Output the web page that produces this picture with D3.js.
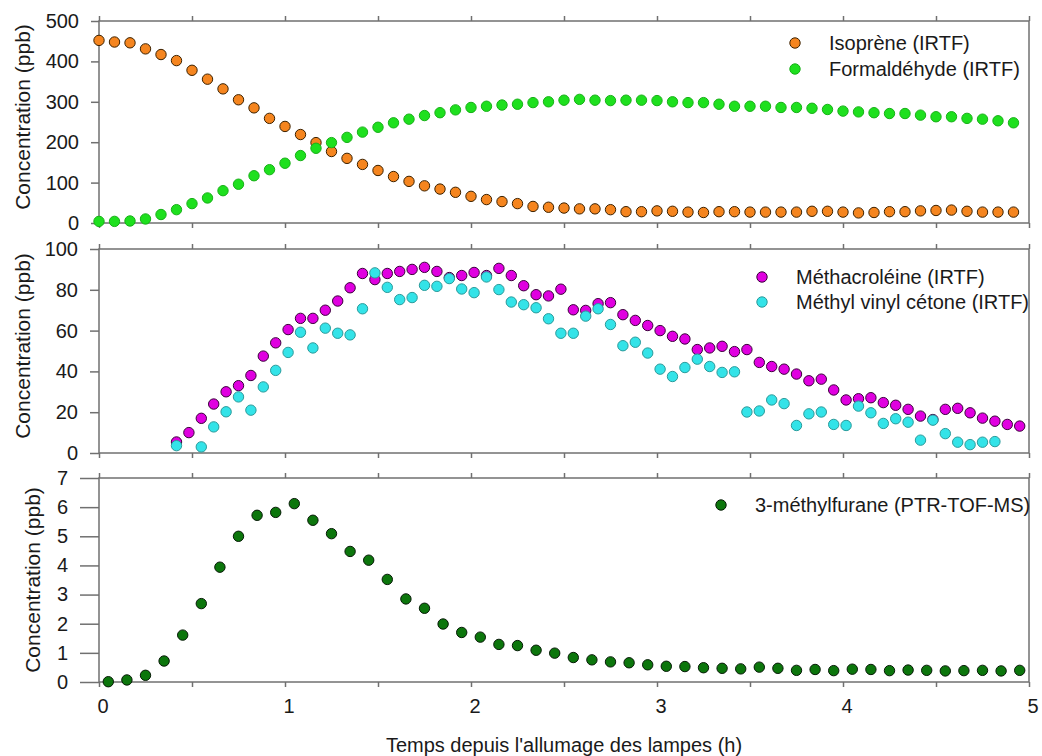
<!DOCTYPE html>
<html><head><meta charset="utf-8">
<script src="https://cdn.jsdelivr.net/npm/d3@7"></script>
<style>
body{margin:0;background:#fff}
svg{display:block}
text{font-family:"Liberation Sans",Arial,sans-serif;fill:#1a1a1a}
</style>
</head><body>
<svg id="c" width="1042" height="756"></svg>
<script>
// ---------- data ----------
// sampling times in minutes
const timesIRTF5 = [0,5,10,15,20,25,30,35,40,45,50,55,60,65,70,75,80,85,90,95,100,105,110,115,120,125,130,135,140,145,150,155,160,165,170,175,180,185,190,195,200,205,210,215,220,225,230,235,240,245,250,255,260,265,270,275,280,285,290,295];
const isoprene = [452,448,446,431,417,402,378,356,332,305,
  285,259,239,219,199,177,160,145,130,115,
  103,92,84,76,66,58,53,48,41,39,
  37,35,35,33,28,28,30,29,27,26,
  28,28,27,27,27,27,29,29,27,25,
  26,28,28,30,31,32,29,27,27,27];
const formaldehyde = [4,4,5,10,21,33,48,62,80,96,
  117,132,148,167,185,199,212,225,237,248,
  257,266,273,280,286,289,292,294,298,300,
  304,306,304,303,304,304,303,300,298,298,
  294,289,289,289,286,286,284,281,277,275,
  273,271,271,267,263,263,259,257,253,248];

const timesIRTF4 = [25,29,33,37,41,45,49,53,57,61,65,69,73,77,81,85,89,93,97,101,105,109,113,117,121,125,129,133,137,141,145,149,153,157,161,165,169,173,177,181,185,189,193,197,201,205,209,213,217,221,225,229,233,237,241,245,249,253,257,261,265,269,273,277,281,285,289,293,297];
const methacroleine = [5.4,10,17,24,30,33,38,47.5,54,60.5,66,66,70,74.5,81,88,85,88,89,90,91,89,86,87,88.5,87,90.5,87,82,77.6,
  77,80.3,70.2,69.9,73.2,73.7,67.8,65,62.5,60,57.2,55.9,50.7,51.5,52.3,49.7,50.7,44.4,42.4,41.1,38.7,35.4,36.2,30.9,26,26.6,27.1,24.7,23.4,21.4,18.1,16.4,21.4,21.9,19.7,17.1,15.6,14,13.2];
const mvk = [3.6,null,3,12.8,20.2,27.5,21,32.4,40.5,49.3,59.2,51.5,61.2,58.7,57.9,70.7,88.3,81.2,75.2,76.2,82.2,81.7,85.5,80.4,78.6,86.3,80.1,74,72.7,71.2,
  65.8,58.7,58.7,67.1,70.7,63,52.6,54.3,49,41.1,37.5,41.9,46,42.4,39.5,39.8,20.1,20.6,26,24.2,13.5,19.2,20.1,14,13.5,23,19.7,14.5,16.8,15.1,6.3,16.1,9.5,5.3,4.1,5.3,5.6,null,null];

const timesPTR = [3,9,15,21,27,33,39,45,51,57,63,69,75,81,87,93,99,105,111,117,123,129,135,141,147,153,159,165,171,177,183,189,195,201,207,213,219,225,231,237,243,249,255,261,267,273,279,285,291,297];
const methylfuran = [0.01,0.07,0.23,0.72,1.61,2.69,3.94,5.0,5.72,5.82,6.12,5.55,5.09,4.48,4.18,3.52,2.85,2.53,1.99,1.70,1.54,1.29,1.25,1.09,
  0.99,0.84,0.76,0.69,0.66,0.59,0.54,0.53,0.49,0.47,0.45,0.51,0.47,0.40,0.43,0.39,0.44,0.43,0.39,0.41,0.40,0.38,0.39,0.40,0.38,0.40];

const xTicks = [0,0.5,1,1.5,2,2.5,3,3.5,4,4.5,5];
const xTickLabels = [0,1,2,3,4,5];
const yTicks1 = [0,100,200,300,400,500];
const yTicks2 = [0,20,40,60,80,100];
const yTicks3 = [0,1,2,3,4,5,6,7];
const yTitle = "Concentration (ppb)";
const xTitle = "Temps depuis l'allumage des lampes (h)";

// ---------- drawing ----------
const svg = d3.select('#c');
const FRAME = '#707070';
const x = d3.scaleLinear().domain([0,5]).range([99,1029]);

const panels = [
  {y:d3.scaleLinear().domain([0,500]).range([223,21]), ticks:yTicks1, tickLen:8, titleX:23, titleY:117,
   legX:795, legY:[43,69],
   series:[
     {name:"Isoprène (IRTF)", t:timesIRTF5, v:isoprene, fill:'#F5851F', stroke:'#3d2200'},
     {name:"Formaldéhyde (IRTF)", t:timesIRTF5, v:formaldehyde, fill:'#1EE01E', stroke:'#18b018'}
   ]},
  {y:d3.scaleLinear().domain([0,100]).range([453,249]), ticks:yTicks2, tickLen:9, titleX:23, titleY:346,
   legX:762, legY:[277,302],
   series:[
     {name:"Méthacroléine (IRTF)", t:timesIRTF4, v:methacroleine, fill:'#E000E0', stroke:'#3a003a'},
     {name:"Méthyl vinyl cétone (IRTF)", t:timesIRTF4, v:mvk, fill:'#33E3E8', stroke:'#2a9a9a'}
   ]},
  {y:d3.scaleLinear().domain([0,7]).range([682,478]), ticks:yTicks3, tickLen:19, titleX:33, titleY:580,
   legX:721, legY:[505], xLabels:true,
   series:[
     {name:"3-méthylfurane (PTR-TOF-MS)", t:timesPTR, v:methylfuran, fill:'#0C760C', stroke:'#061a06'}
   ]}
];

panels.forEach(p => {
  const g = svg.append('g');
  const [y0, y1] = p.y.range();
  // frame
  g.append('rect').attr('x', x(0)).attr('y', y1).attr('width', x(5)-x(0)).attr('height', y0-y1)
    .attr('fill','none').attr('stroke',FRAME).attr('stroke-width',1.5);

  // left axis
  const ya = g.append('g').attr('transform',`translate(${x(0)},0)`)
    .call(d3.axisLeft(p.y).tickValues(p.ticks).tickSize(p.tickLen).tickSizeOuter(0).tickPadding(12).tickFormat(d3.format('d')));
  ya.select('.domain').remove();
  ya.selectAll('line').attr('stroke',FRAME).attr('stroke-width',1.5);
  ya.selectAll('text').attr('font-size',20).attr('font-family','"Liberation Sans",Arial,sans-serif').attr('fill','#1a1a1a');

  // bottom ticks
  const xb = g.append('g').attr('transform',`translate(0,${y0})`)
    .call(d3.axisBottom(x).tickValues(xTicks).tickSize(5).tickSizeOuter(0).tickFormat(''));
  xb.select('.domain').remove();
  xb.selectAll('line').attr('stroke',FRAME).attr('stroke-width',1.5);
  // top ticks
  const xt = g.append('g').attr('transform',`translate(0,${y1})`)
    .call(d3.axisTop(x).tickValues(xTicks).tickSize(5).tickSizeOuter(0).tickFormat(''));
  xt.select('.domain').remove();
  xt.selectAll('line').attr('stroke',FRAME).attr('stroke-width',1.5);

  if (p.xLabels) {
    g.selectAll('text.xl').data(xTickLabels).join('text').attr('class','xl')
      .attr('x', d => x(d)+4).attr('y', 713).attr('text-anchor','middle')
      .attr('font-size',20).text(d => d);
  }

  // y title
  g.append('text').attr('transform',`translate(${p.titleX},${p.titleY}) rotate(-90)`)
    .attr('text-anchor','middle').attr('dy','0.35em').attr('font-size',21).text(yTitle);

  // points
  p.series.forEach(s => {
    const pts = s.t.map((t,i) => ({t:t/60, v:s.v[i]})).filter(d => d.v !== null);
    g.append('g').selectAll('circle').data(pts).join('circle')
      .attr('cx', d => x(d.t)).attr('cy', d => p.y(d.v)).attr('r',5.2)
      .attr('fill', s.fill).attr('stroke', s.stroke).attr('stroke-width',1);
  });

  // legend
  p.series.forEach((s,i) => {
    g.append('circle').attr('cx',p.legX).attr('cy',p.legY[i]).attr('r',5.2)
      .attr('fill',s.fill).attr('stroke',s.stroke).attr('stroke-width',1);
    g.append('text').attr('x',p.legX+34).attr('y',p.legY[i]).attr('dy','0.35em')
      .attr('font-size',20).text(s.name);
  });
});

svg.append('text').attr('x',(x(0)+x(5))/2).attr('y',752).attr('text-anchor','middle')
  .attr('font-size',20).text(xTitle);
</script>
</body></html>
